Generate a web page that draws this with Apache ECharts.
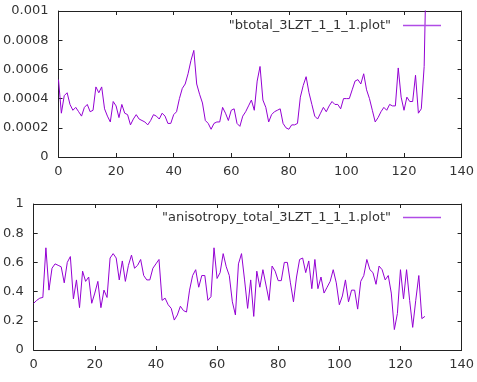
<!DOCTYPE html>
<html>
<head>
<meta charset="utf-8">
<script src="https://cdn.jsdelivr.net/npm/echarts@6/dist/echarts.min.js"></script>
<style>
  html, body { margin: 0; padding: 0; background: #fff; }
  #main { width: 477px; height: 382px; }
</style>
</head>
<body>
<div id="main"></div>
<script>
// 两个面板的数据，x 为 0..128 的序号
var btotal = [
  0.00053, 0.00030, 0.00042, 0.00044, 0.00036, 0.00032, 0.00034, 0.00031, 0.00028, 0.00034,
  0.00036, 0.00031, 0.00032, 0.00048, 0.00044, 0.00048, 0.00033, 0.00028, 0.00024, 0.00038,
  0.00035, 0.00027, 0.00036, 0.00030, 0.00029, 0.00022, 0.00026, 0.00029, 0.00026, 0.00025,
  0.00024, 0.00022, 0.00025, 0.00029, 0.00028, 0.00026, 0.00030, 0.00028, 0.00023, 0.00023,
  0.00029, 0.00031, 0.00040, 0.00047, 0.00050, 0.00057, 0.00066, 0.00073, 0.00050, 0.00043,
  0.00037, 0.00025, 0.00023, 0.00019, 0.00023, 0.00024, 0.00024, 0.00034, 0.00030, 0.00025,
  0.00032, 0.00033, 0.00023, 0.00021, 0.00028, 0.00031, 0.00035, 0.00039, 0.00032, 0.00052,
  0.00062, 0.00039, 0.00034, 0.00024, 0.00029, 0.00031, 0.00032, 0.00033, 0.00023, 0.00020,
  0.00019, 0.00022, 0.00022, 0.00023, 0.00041, 0.00049, 0.00055, 0.00044, 0.00036, 0.00028,
  0.00026, 0.00030, 0.00034, 0.00031, 0.00035, 0.00038, 0.00036, 0.00036, 0.00033, 0.00040,
  0.00040, 0.00040, 0.00046, 0.00052, 0.00053, 0.00050, 0.00057, 0.00046, 0.00040, 0.00032,
  0.00024, 0.00027, 0.00031, 0.00034, 0.00032, 0.00036, 0.00035, 0.00035, 0.00061, 0.00041,
  0.00032, 0.00041, 0.00038, 0.00038, 0.00056, 0.00030, 0.00033, 0.00062, 0.00160
];
var anisotropy = [
  0.32, 0.34, 0.355, 0.36, 0.70, 0.41, 0.56, 0.59, 0.58, 0.57,
  0.46, 0.60, 0.64, 0.35, 0.48, 0.29, 0.54, 0.47, 0.50, 0.32,
  0.39, 0.47, 0.29, 0.41, 0.36, 0.63, 0.66, 0.63, 0.48, 0.61,
  0.47, 0.58, 0.65, 0.56, 0.58, 0.62, 0.51, 0.48, 0.48, 0.56,
  0.59, 0.62, 0.34, 0.355, 0.31, 0.285, 0.205, 0.24, 0.30, 0.27,
  0.26, 0.41, 0.51, 0.55, 0.43, 0.51, 0.51, 0.34, 0.365, 0.70,
  0.49, 0.53, 0.66, 0.57, 0.51, 0.33, 0.24, 0.59, 0.66, 0.48,
  0.285, 0.48, 0.23, 0.54, 0.43, 0.55, 0.445, 0.34, 0.575, 0.54,
  0.475, 0.475, 0.60, 0.60, 0.46, 0.33, 0.50, 0.62, 0.63, 0.53,
  0.61, 0.42, 0.62, 0.42, 0.50, 0.39, 0.43, 0.47, 0.55, 0.46,
  0.31, 0.37, 0.48, 0.33, 0.41, 0.41, 0.28, 0.47, 0.51, 0.62,
  0.55, 0.53, 0.45, 0.575, 0.55, 0.48, 0.51, 0.39, 0.14, 0.25,
  0.55, 0.35, 0.55, 0.34, 0.155, 0.34, 0.51, 0.215, 0.23
];
var seriesNames = ['"btotal_3LZT_1_1_1.plot"', '"anisotropy_total_3LZT_1_1_1.plot"'];

function toPairs(arr) {
  var out = [];
  for (var i = 0; i < arr.length; i++) {
    out.push([i, arr[i]]);
  }
  return out;
}

var myChart = echarts.init(document.getElementById('main'));
var font = 'DejaVu Sans';
var lineColor = '#9400d3';
var axisColor = '#222';

// 构造一个坐标轴（含镜像的刻度）
function xAxisOf(grid, pos) {
  return {
    type: 'value', gridIndex: grid, position: pos,
    min: 0, max: 140, interval: 20,
    axisLine: { show: true, onZero: false, lineStyle: { color: axisColor, width: 1 } },
    axisTick: { show: true, inside: true, length: 4, lineStyle: { color: axisColor } },
    axisLabel: { show: pos === 'bottom', margin: 8, color: '#333', fontFamily: font, fontSize: 13 },
    splitLine: { show: false }
  };
}
function yAxisOf(grid, pos, max, interval, fmt) {
  return {
    type: 'value', gridIndex: grid, position: pos,
    min: 0, max: max, interval: interval,
    axisLine: { show: true, onZero: false, lineStyle: { color: axisColor, width: 1 } },
    axisTick: { show: true, inside: true, length: 4, lineStyle: { color: axisColor } },
    axisLabel: { show: pos === 'left', margin: 10, color: '#333', fontFamily: font, fontSize: 13, formatter: fmt },
    splitLine: { show: false }
  };
}

// 图例：图标在文字右侧，紫色短线
function legendOf(name, top) {
  return {
    data: [{ name: name, icon: 'rect', itemStyle: { color: '#b04be6', borderWidth: 0 } }],
    right: 31, top: top,
    align: 'right',
    itemWidth: 38, itemHeight: 1.6,
    textStyle: { color: '#333', fontFamily: font, fontSize: 13, padding: [0, 7, 0, 0] }
  };
}

var option = {
  backgroundColor: '#fff',
  animation: false,
  grid: [
    { left: 58, right: 14, top: 11, height: 146 },
    { left: 32, right: 14, top: 204, height: 146 }
  ],
  legend: [legendOf(seriesNames[0], 14), legendOf(seriesNames[1], 206)],
  xAxis: [xAxisOf(0, 'bottom'), xAxisOf(0, 'top'), xAxisOf(1, 'bottom'), xAxisOf(1, 'top')],
  yAxis: [
    yAxisOf(0, 'left', 0.001, 0.0002, function(v) { return String(+v.toFixed(4)); }),
    yAxisOf(0, 'right', 0.001, 0.0002),
    yAxisOf(1, 'left', 1, 0.2, function(v) { return String(+v.toFixed(1)); }),
    yAxisOf(1, 'right', 1, 0.2)
  ],
  series: [{
    name: seriesNames[0],
    type: 'line',
    xAxisIndex: 0, yAxisIndex: 0,
    data: toPairs(btotal),
    showSymbol: false,
    color: lineColor,
    lineStyle: { width: 1, color: lineColor },
    clip: true
  }, {
    name: seriesNames[1],
    type: 'line',
    xAxisIndex: 2, yAxisIndex: 2,
    data: toPairs(anisotropy),
    showSymbol: false,
    color: lineColor,
    lineStyle: { width: 1, color: lineColor },
    clip: true
  }]
};
myChart.setOption(option);
</script>
</body>
</html>
